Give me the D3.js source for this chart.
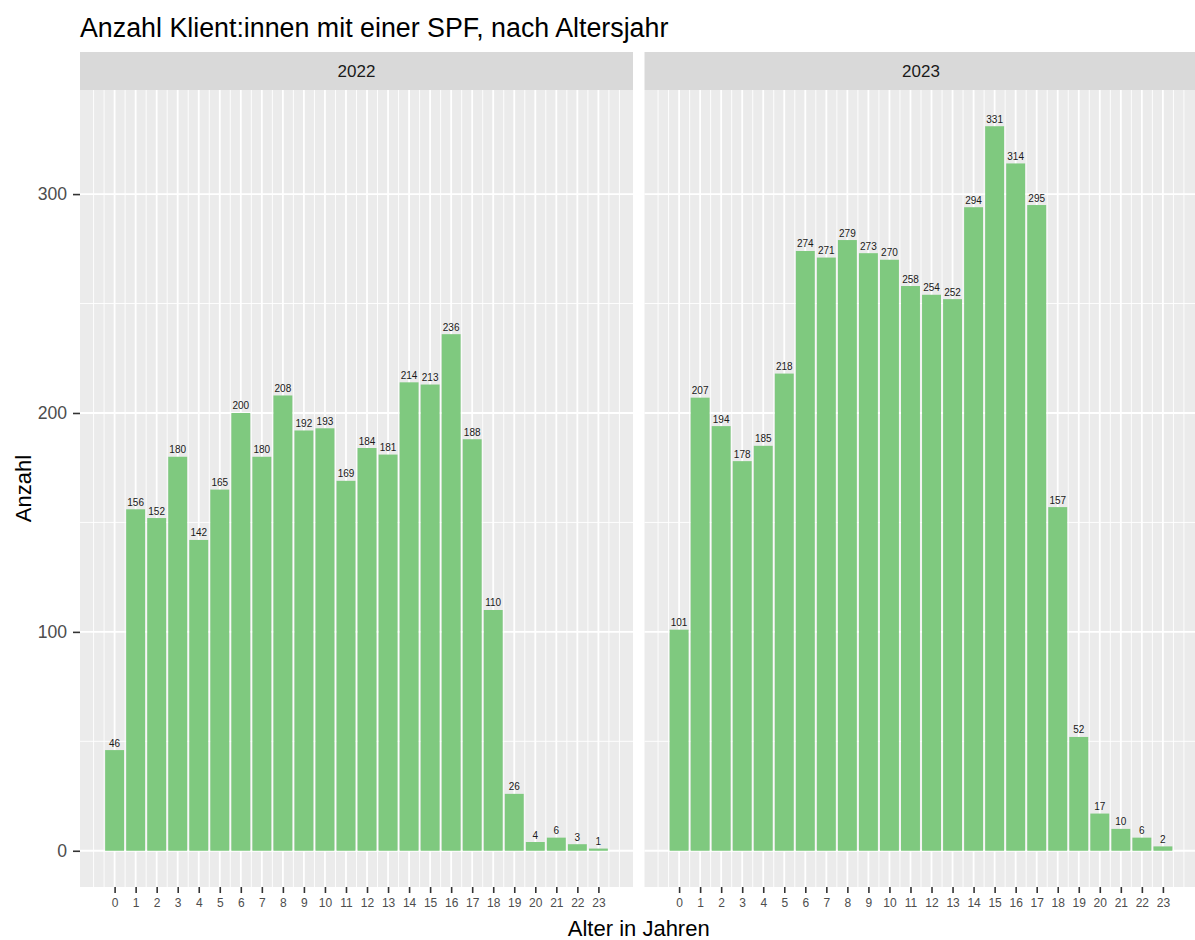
<!DOCTYPE html>
<html>
<head>
<meta charset="utf-8">
<script src="https://cdn.jsdelivr.net/npm/d3@7"></script>
<style>
  body { margin: 0; background: #fff; }
  svg { display: block; font-family: "Liberation Sans", Arial, sans-serif; }
</style>
</head>
<body>
<svg width="1195" height="940"></svg>
<script>
const ages = [0, 1, 2, 3, 4, 5, 6, 7, 8, 9, 10, 11, 12, 13, 14, 15, 16, 17, 18, 19, 20, 21, 22, 23]
const years = ['2022', '2023']
const counts2022 = [46, 156, 152, 180, 142, 165, 200, 180, 208, 192, 193, 169, 184, 181, 214, 213, 236, 188, 110, 26, 4, 6, 3, 1]
const counts2023 = [101, 207, 194, 178, 185, 218, 274, 271, 279, 273, 270, 258, 254, 252, 294, 331, 314, 295, 157, 52, 17, 10, 6, 2]
const yTicks = [0, 100, 200, 300]

const TITLE = 'Anzahl Klient:innen mit einer SPF, nach Altersjahr'
const X_TITLE = 'Alter in Jahren'
const Y_TITLE = 'Anzahl'

const LEFT = 80
const PANEL_W = 553
const PANEL_GAP = 11.5
const STRIP_TOP = 52
const STRIP_H = 38
const PANEL_TOP = STRIP_TOP + STRIP_H
const PANEL_H = 797
const BAR_COLOR = '#7FC97F'
const BAR_W = 0.9

const panels = years.map((yr, i) => ({
  year: yr,
  values: ages.map((a, j) => ({ age: a, n: (i === 0 ? counts2022 : counts2023)[j] }))
}))

const allMax = d3.max(panels, p => d3.max(p.values, d => d.n))
const xLo = ages[0] - BAR_W / 2, xHi = ages[ages.length - 1] + BAR_W / 2
const xPad = (xHi - xLo) * 0.05
const yPad = allMax * 0.05

const x = d3.scaleLinear()
  .domain([xLo - xPad, xHi + xPad])
  .range([0, PANEL_W])
const y = d3.scaleLinear()
  .domain([-yPad, allMax + yPad])
  .range([PANEL_H, 0])

// ggplot style minor breaks: midpoints, extended one step past the majors
const xMinor = [ages[0] - 1, ...d3.range(ages[0] - 0.5, ages[ages.length - 1] + 1, 1), ages[ages.length - 1] + 1]
  .filter(v => v >= x.domain()[0] && v <= x.domain()[1])
const yMinor = [-50, 50, 150, 250, 350].filter(v => v >= y.domain()[0] && v <= y.domain()[1])

const svg = d3.select('svg')

svg.append('text')
  .attr('x', LEFT)
  .attr('y', 37)
  .style('font-size', '26.8px')
  .style('fill', '#000')
  .text(TITLE)

const panel = svg.selectAll('g.panel')
  .data(panels)
  .join('g')
  .attr('class', 'panel')
  .attr('transform', (d, i) => `translate(${LEFT + i * (PANEL_W + PANEL_GAP)}, ${PANEL_TOP})`)

// strip
panel.append('rect')
  .attr('y', -STRIP_H)
  .attr('width', PANEL_W)
  .attr('height', STRIP_H)
  .style('fill', '#D9D9D9')
panel.append('text')
  .attr('x', PANEL_W / 2)
  .attr('y', -STRIP_H / 2 + 6)
  .attr('text-anchor', 'middle')
  .style('font-size', '17px')
  .style('fill', '#1A1A1A')
  .text(d => d.year)

// background + grid
panel.append('rect')
  .attr('width', PANEL_W)
  .attr('height', PANEL_H)
  .style('fill', '#EBEBEB')

const grid = panel.append('g').attr('class', 'grid')
grid.selectAll('line.xminor')
  .data(xMinor)
  .join('line')
  .attr('x1', d => x(d)).attr('x2', d => x(d))
  .attr('y1', 0).attr('y2', PANEL_H)
  .style('stroke', '#fff').style('stroke-width', 0.9)
grid.selectAll('line.yminor')
  .data(yMinor)
  .join('line')
  .attr('y1', d => y(d)).attr('y2', d => y(d))
  .attr('x1', 0).attr('x2', PANEL_W)
  .style('stroke', '#fff').style('stroke-width', 0.9)
grid.selectAll('line.xmajor')
  .data(ages)
  .join('line')
  .attr('x1', d => x(d)).attr('x2', d => x(d))
  .attr('y1', 0).attr('y2', PANEL_H)
  .style('stroke', '#fff').style('stroke-width', 1.8)
grid.selectAll('line.ymajor')
  .data(yTicks)
  .join('line')
  .attr('y1', d => y(d)).attr('y2', d => y(d))
  .attr('x1', 0).attr('x2', PANEL_W)
  .style('stroke', '#fff').style('stroke-width', 1.8)

// bars
panel.append('g').attr('class', 'bars')
  .selectAll('rect')
  .data(d => d.values)
  .join('rect')
  .attr('x', d => x(d.age - BAR_W / 2))
  .attr('width', d => x(d.age + BAR_W / 2) - x(d.age - BAR_W / 2))
  .attr('y', d => y(d.n))
  .attr('height', d => y(0) - y(d.n))
  .style('fill', BAR_COLOR)

panel.append('g').attr('class', 'labels')
  .selectAll('text')
  .data(d => d.values)
  .join('text')
  .attr('x', d => x(d.age))
  .attr('y', d => y(d.n) - 3.5)
  .attr('text-anchor', 'middle')
  .style('font-size', '10px')
  .style('fill', '#1A1A1A')
  .text(d => d.n)

// x axes
panel.append('g')
  .attr('class', 'x-axis')
  .attr('transform', `translate(0, ${PANEL_H})`)
  .call(d3.axisBottom(x).tickValues(ages).tickSize(6).tickPadding(5).tickSizeOuter(0))
  .call(g => g.select('.domain').remove())
  .call(g => g.selectAll('line').style('stroke', '#333').style('stroke-width', 1.6))
  .call(g => g.selectAll('text')
    .style('font-family', '"Liberation Sans", Arial, sans-serif')
    .style('font-size', '12px')
    .style('fill', '#4D4D4D'))

// y axis on first panel only
panel.filter((d, i) => i === 0).append('g')
  .attr('class', 'y-axis')
  .call(d3.axisLeft(y).tickValues(yTicks).tickSize(7).tickPadding(6).tickSizeOuter(0))
  .call(g => g.select('.domain').remove())
  .call(g => g.selectAll('line').style('stroke', '#333').style('stroke-width', 1.6))
  .call(g => g.selectAll('text')
    .style('font-family', '"Liberation Sans", Arial, sans-serif')
    .style('font-size', '17.6px')
    .style('fill', '#4D4D4D'))

// axis titles
svg.append('text')
  .attr('x', LEFT + (2 * PANEL_W + PANEL_GAP) / 2)
  .attr('y', 936)
  .attr('text-anchor', 'middle')
  .style('font-size', '22px')
  .style('fill', '#000')
  .text(X_TITLE)

svg.append('text')
  .attr('transform', `translate(31, ${PANEL_TOP + PANEL_H / 2}) rotate(-90)`)
  .attr('text-anchor', 'middle')
  .style('font-size', '22px')
  .style('fill', '#000')
  .text(Y_TITLE)
</script>
</body>
</html>
